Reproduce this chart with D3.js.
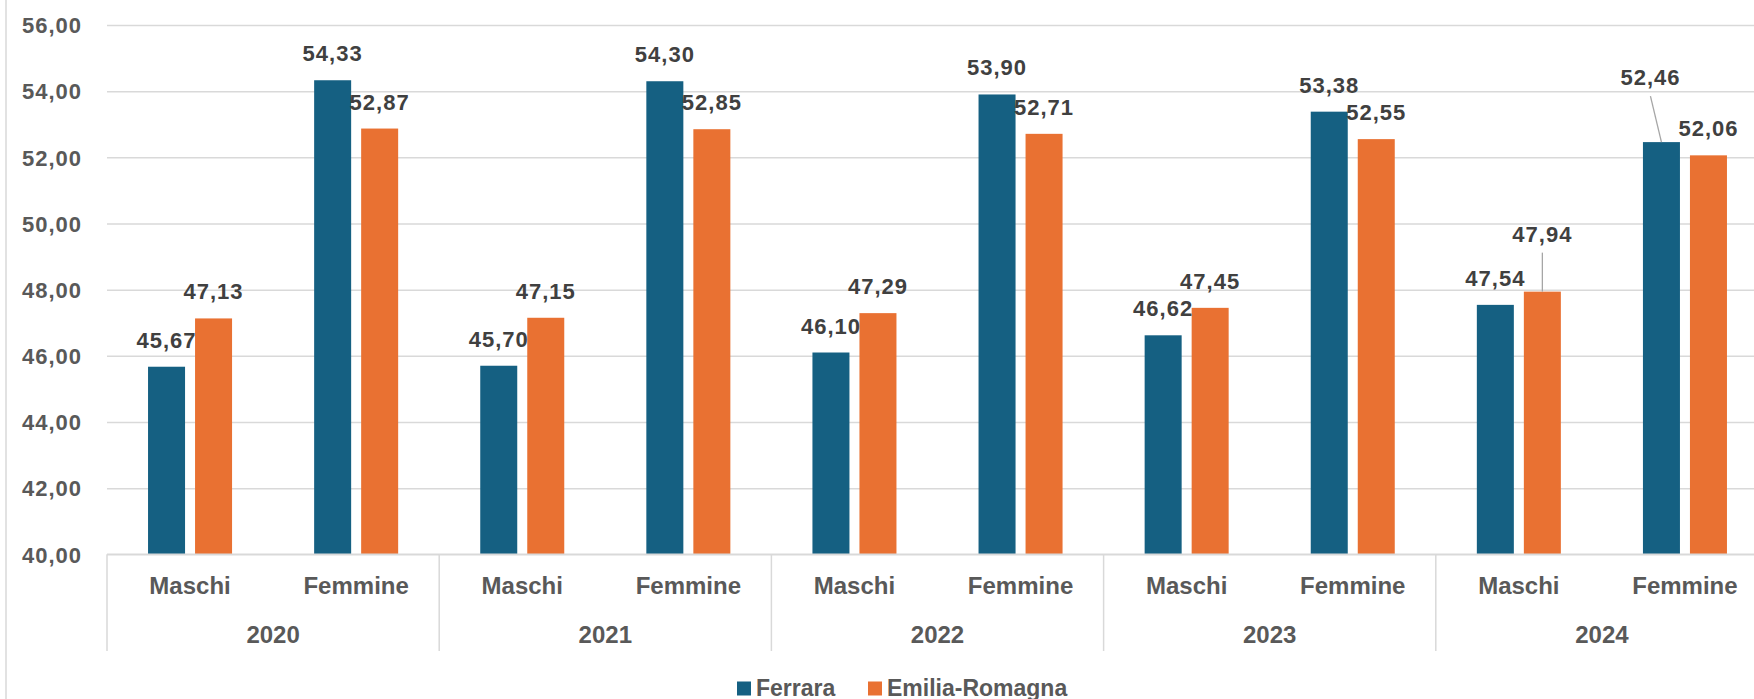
<!DOCTYPE html>
<html>
<head>
<meta charset="utf-8">
<script src="https://cdn.jsdelivr.net/npm/d3@7"></script>
<style>
  body { margin: 0; background: #fff; }
  text { font-family: "Liberation Sans", Arial, sans-serif; font-weight: bold; }
  .num { letter-spacing: 1px; }
</style>
</head>
<body>
<div id="visualization-container"></div>
<script>
//----------------DATA----------------//
var years = ["2020", "2021", "2022", "2023", "2024"];
var sexes = ["Maschi", "Femmine"];
var seriesNames = ["Ferrara", "Emilia-Romagna"];

// one value per year/sex, in order 2020 M, 2020 F, 2021 M, ...
var ferrara = [45.67, 54.33, 45.70, 54.30, 46.10, 53.90, 46.62, 53.38, 47.54, 52.46];
var emilia = [47.13, 52.87, 47.15, 52.85, 47.29, 52.71, 47.45, 52.55, 47.94, 52.06];

var yTicks = [40, 42, 44, 46, 48, 50, 52, 54, 56];

// labels moved by hand in the original (with leader line)
var labelMoves = [
  {series: 0, index: 9, dx: -11, dy: -38},
  {series: 1, index: 8, dx: 0, dy: -31}
];

var colors = ["#156082", "#E97132"];

//----------------CANVAS PREPARATION----------------//
var w = 1754;
var h = 699;
var svg = d3.select("#visualization-container").append("svg")
  .attr("width", w)
  .attr("height", h);

var plotLeft = 107, plotRight = 1768, plotTop = 25, plotBottom = 554.3;

var it = d3.formatLocale({decimal: ",", thousands: ".", grouping: [3], currency: ["", "€"]});
var fmt = it.format(".2f");

// category keys
var cats = [];
years.forEach(function(y) {
  sexes.forEach(function(s) { cats.push(y + "|" + s); });
});

var allValues = [ferrara, emilia];

//PREPARE SCALES
var x0 = d3.scaleBand()
  .domain(cats)
  .range([plotLeft, plotRight])
  .padding(0);

var x1 = d3.scaleBand()
  .domain([0, 1])
  .range([0, x0.bandwidth()])
  .paddingInner(0.2128)
  .paddingOuter(0.873);

var yScale = d3.scaleLinear()
  .domain([40, 56])
  .range([plotBottom, plotTop]);

//CHART BORDER (left side)
svg.append("line")
  .attr("x1", 6).attr("x2", 6)
  .attr("y1", 0).attr("y2", h)
  .attr("stroke", "#D9D9D9")
  .attr("stroke-width", 1.5);

//GRID
var grid = d3.axisLeft(yScale)
  .tickValues(yTicks)
  .tickFormat("")
  .tickSize(-(plotRight - plotLeft));

svg.append("g")
  .attr("transform", "translate(" + plotLeft + ",0)")
  .call(grid)
  .call(function(g) {
    g.select(".domain").remove();
    g.selectAll("line").attr("stroke", "#D9D9D9").attr("stroke-width", 1.5);
  });

//Y AXIS LABELS
var yAxis = d3.axisLeft(yScale)
  .tickValues(yTicks)
  .tickFormat(fmt)
  .tickSize(0)
  .tickPadding(0);

svg.append("g")
  .attr("transform", "translate(82,0)")
  .call(yAxis)
  .call(function(g) {
    g.select(".domain").remove();
    g.attr("font-family", null).attr("font-size", null);
    g.selectAll("text")
      .attr("class", "num")
      .attr("fill", "#595959")
      .style("font-size", "22px")
      .attr("dy", "0.35em");
  });

//BARS
allValues.forEach(function(vals, si) {
  svg.append("g").selectAll("rect")
    .data(vals)
    .enter()
    .append("rect")
    .attr("x", function(d, i) { return x0(cats[i]) + x1(si); })
    .attr("width", x1.bandwidth())
    .attr("y", function(d) { return yScale(d); })
    .attr("height", function(d) { return plotBottom - yScale(d); })
    .attr("fill", colors[si]);
});

//DATA LABELS
allValues.forEach(function(vals, si) {
  vals.forEach(function(d, i) {
    var cx = x0(cats[i]) + x1(si) + x1.bandwidth() / 2;
    var ty = yScale(d);
    var mv = labelMoves.find(function(m) { return m.series === si && m.index === i; });
    var lx = cx + (mv ? mv.dx : 0);
    var ly = ty - 19 + (mv ? mv.dy : 0);
    if (mv) {
      svg.append("line")
        .attr("x1", lx).attr("y1", ly + 11)
        .attr("x2", cx).attr("y2", ty)
        .attr("stroke", "#A6A6A6")
        .attr("stroke-width", 1.3);
    }
    svg.append("text")
      .attr("class", "num")
      .attr("x", lx)
      .attr("y", ly)
      .attr("text-anchor", "middle")
      .attr("fill", "#404040")
      .style("font-size", "22px")
      .text(fmt(d));
  });
});

//CATEGORY AXIS
svg.append("line")
  .attr("x1", plotLeft).attr("x2", plotRight)
  .attr("y1", plotBottom).attr("y2", plotBottom)
  .attr("stroke", "#D9D9D9")
  .attr("stroke-width", 1.5);

var yearStep = x0.step() * sexes.length;
d3.range(years.length + 1).forEach(function(k) {
  var xx = plotLeft + k * yearStep;
  svg.append("line")
    .attr("x1", xx).attr("x2", xx)
    .attr("y1", plotBottom).attr("y2", 651)
    .attr("stroke", "#D9D9D9")
    .attr("stroke-width", 1.5);
});

svg.append("g").selectAll("text")
  .data(cats)
  .enter()
  .append("text")
  .attr("x", function(d) { return x0(d) + x0.bandwidth() / 2; })
  .attr("y", 594)
  .attr("text-anchor", "middle")
  .attr("fill", "#595959")
  .style("font-size", "24px")
  .text(function(d) { return d.split("|")[1]; });

svg.append("g").selectAll("text")
  .data(years)
  .enter()
  .append("text")
  .attr("x", function(d, i) { return plotLeft + (i + 0.5) * yearStep; })
  .attr("y", 643)
  .attr("text-anchor", "middle")
  .attr("fill", "#595959")
  .style("font-size", "24px")
  .text(function(d) { return d; });

//LEGEND
var legendX = [737, 868];
seriesNames.forEach(function(name, si) {
  svg.append("rect")
    .attr("x", legendX[si])
    .attr("y", 681.5)
    .attr("width", 14)
    .attr("height", 14)
    .attr("fill", colors[si]);
  svg.append("text")
    .attr("x", legendX[si] + 19)
    .attr("y", 695.5)
    .attr("fill", "#595959")
    .style("font-size", "23px")
    .text(name);
});
</script>
</body>
</html>
